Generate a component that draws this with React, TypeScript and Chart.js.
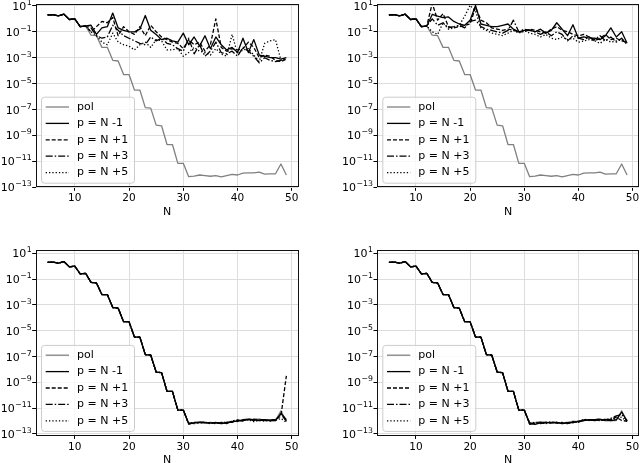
import { useEffect, useRef } from 'react';
import { Chart, registerables } from 'chart.js';

Chart.register(...registerables);

// ---------- data ----------
const N_VALUES = [5, 6, 7, 8, 9, 10, 11, 12, 13, 14, 15, 16, 17, 18, 19, 20, 21, 22, 23, 24, 25, 26, 27, 28, 29, 30, 31, 32, 33, 34, 35, 36, 37, 38, 39, 40, 41, 42, 43, 44, 45, 46, 47, 48, 49];

// pol, N = 5..30
const polHead = [2.0, 2.1, 1.7, 2.3, 0.89, 1.0, 0.25, 0.28, 5.6e-2, 5.0e-2, 6.3e-3, 6.3e-3, 6.3e-4, 5.6e-4, 5.0e-5, 5.0e-5, 3.2e-6, 3.2e-6, 1.4e-7, 1.3e-7, 6.3e-9, 5.6e-9, 2.0e-10, 2.0e-10, 7.1e-12, 7.1e-12];
// pol, N = 31..49
const polTail = [6.6e-13, 7.4e-13, 8.9e-13, 7.9e-13, 7.1e-13, 7.9e-13, 6.3e-13, 7.9e-13, 1.0e-12, 8.9e-13, 1.26e-12, 1.3e-12, 1.3e-12, 1.5e-12, 1.05e-12, 1.1e-12, 1.1e-12, 6.3e-12, 8.9e-13];
const pol = [...polHead, ...polTail];
// N = 5..12 shared by every curve in the top panels
const commonStart = polHead.slice(0, 8);

// top-left panel, N = 13..49
const tlNm1 = [0.32, 6.3e-2, 0.2, 0.25, 2.8, 0.2, 0.13, 0.1, 0.1, 0.16,
  1.8, 0.13, 6.3e-2, 2.5e-2, 3.2e-2, 2.0e-2, 1.6e-2, 7.9e-2, 1.0e-2, 4.0e-2,
  7.9e-3, 5.0e-2, 5.0e-3, 4.0e-2, 1.0e-2, 4.0e-3, 6.3e-3, 2.5e-3, 3.2e-2, 2.5e-3,
  2.5e-2, 1.6e-3, 1.3e-3, 1.0e-3, 1.0e-3, 7.9e-4, 1.0e-3];
const tlNp1 = [0.1, 0.25, 0.63, 0.5, 1.26, 5.0e-2, 0.25, 0.1, 6.3e-2, 0.25,
  5.0e-2, 0.32, 0.1, 4.0e-2, 2.5e-2, 1.6e-2, 1.3e-2, 5.0e-3, 2.5e-2, 1.0e-2,
  1.6e-2, 3.2e-3, 1.0e-2, 1.0, 6.3e-3, 3.2e-3, 5.0e-3, 4.0e-3, 5.0e-3, 1.6e-2,
  6.3e-3, 1.0e-3, 1.6e-3, 1.3e-3, 6.3e-4, 5.0e-4, 7.9e-4];
const tlNp3 = [0.2, 5.0e-2, 3.2e-2, 4.0e-2, 0.32, 0.13, 5.0e-2, 3.2e-2, 2.0e-2, 1.3e-2,
  1.0e-2, 4.0e-2, 2.0e-2, 3.2e-2, 1.3e-2, 1.0e-2, 5.0e-3, 3.2e-3, 3.2e-2, 2.0e-3,
  1.0e-2, 1.3e-3, 3.2e-3, 1.6e-2, 2.5e-3, 2.0e-3, 3.2e-3, 1.3e-3, 6.3e-3, 3.2e-3,
  1.3e-3, 4.0e-4, 1.0e-3, 6.3e-4, 5.0e-4, 6.3e-4, 1.0e-3];
const tlNp5 = [0.1, 5.0e-2, 1.6e-2, 1.0e-2, 7.9e-2, 1.6e-2, 1.0e-2, 7.9e-3, 4.0e-3, 1.0e-2,
  1.6e-2, 6.3e-3, 2.5e-2, 2.0e-2, 4.0e-3, 4.0e-3, 5.0e-3, 1.3e-3, 2.5e-3, 6.3e-3,
  3.2e-3, 2.5e-3, 1.6e-3, 5.0e-3, 2.0e-3, 1.3e-3, 6.3e-2, 2.0e-3, 4.0e-3, 5.0e-3,
  1.6e-3, 5.0e-4, 1.3e-2, 2.0e-2, 2.5e-2, 6.3e-4, 7.9e-4];

// top-right panel, N = 13..49
const trNm1 = [2.2, 1.6, 1.26, 1.4, 0.63, 0.4, 0.32, 0.79, 11, 0.4,
  0.32, 0.25, 0.25, 0.32, 0.4, 0.16, 0.1, 0.13, 0.14, 0.1,
  0.16, 7.9e-2, 0.13, 0.5, 0.16, 5.0e-2, 0.35, 3.2e-2, 4.0e-2, 3.2e-2,
  3.2e-2, 2.5e-2, 5.0e-2, 0.2, 4.0e-2, 0.1, 1.3e-2];
const trNp1 = [16, 0.79, 2.5, 0.25, 0.2, 0.25, 0.32, 0.4, 7.9, 0.79,
  0.5, 0.2, 0.16, 0.13, 0.16, 0.13, 0.1, 0.1, 0.16, 0.13,
  0.1, 7.9e-2, 0.16, 0.25, 0.13, 0.1, 6.3e-2, 5.0e-2, 6.3e-2, 4.0e-2,
  2.0e-2, 3.2e-2, 6.3e-2, 2.5e-2, 3.2e-2, 2.0e-2, 1.6e-2];
const trNp3 = [1.0, 0.32, 0.5, 0.2, 0.25, 0.32, 0.2, 0.63, 0.79, 0.25,
  0.16, 0.13, 0.1, 7.9e-2, 0.13, 0.79, 0.1, 0.16, 0.13, 0.1,
  6.3e-2, 0.1, 5.0e-2, 0.1, 6.3e-2, 2.0e-2, 5.0e-2, 3.2e-2, 2.5e-2, 4.0e-2,
  2.5e-2, 5.0e-2, 2.0e-2, 4.0e-2, 1.6e-2, 3.2e-2, 1.0e-2];
const trNp5 = [0.1, 6.3e-2, 0.5, 0.16, 0.2, 0.32, 1.6, 11, 4.0, 0.2,
  0.13, 7.9e-2, 6.3e-2, 5.0e-2, 7.9e-2, 0.13, 7.9e-2, 0.13, 7.9e-2, 6.3e-2,
  4.0e-2, 6.3e-2, 3.2e-2, 2.5e-2, 4.0e-2, 2.5e-2, 3.2e-2, 1.6e-2, 2.0e-2, 2.5e-2,
  2.0e-2, 1.3e-2, 2.5e-2, 1.6e-2, 2.0e-2, 2.5e-2, 1.3e-2];

// bottom-left panel, N = 31..49 (N = 5..30 coincide with pol)
const blNm1 = [6.3e-13, 7.1e-13, 7.9e-13, 7.6e-13, 7.1e-13, 7.6e-13, 6.3e-13, 7.1e-13, 8.9e-13, 1.0e-12, 1.26e-12, 1.4e-12, 1.26e-12, 1.1e-12, 1.26e-12, 1.1e-12, 1.1e-12, 4.0e-12, 1.26e-12];
const blNp1 = [5.6e-13, 7.9e-13, 7.6e-13, 8.3e-13, 6.3e-13, 7.9e-13, 7.1e-13, 7.9e-13, 7.9e-13, 1.1e-12, 1.1e-12, 1.26e-12, 1.4e-12, 1.26e-12, 1.1e-12, 1.26e-12, 1.26e-12, 2.5e-12, 3.2e-9];
const blNp3 = [7.1e-13, 6.3e-13, 7.9e-13, 7.1e-13, 7.9e-13, 7.1e-13, 7.9e-13, 6.3e-13, 1.0e-12, 1.26e-12, 1.0e-12, 1.4e-12, 1.1e-12, 1.26e-12, 1.26e-12, 1.0e-12, 1.26e-12, 3.2e-12, 1.0e-12];
const blNp5 = [6.3e-13, 7.9e-13, 7.1e-13, 7.9e-13, 7.1e-13, 6.3e-13, 7.9e-13, 7.9e-13, 8.9e-13, 1.0e-12, 1.1e-12, 1.26e-12, 8.9e-13, 1.1e-12, 1.0e-12, 1.26e-12, 1.1e-12, 1.6e-12, 7.9e-13];

// bottom-right panel, N = 31..49
const brNm1 = [6.3e-13, 5.6e-13, 7.1e-13, 7.9e-13, 7.1e-13, 7.9e-13, 6.3e-13, 7.1e-13, 7.9e-13, 8.9e-13, 1.1e-12, 1.26e-12, 1.1e-12, 1.26e-12, 1.26e-12, 1.1e-12, 1.26e-12, 5.0e-12, 1.0e-12];
const brNp1 = [7.1e-13, 6.3e-13, 7.9e-13, 7.1e-13, 7.9e-13, 7.1e-13, 7.1e-13, 6.3e-13, 8.9e-13, 7.9e-13, 1.26e-12, 1.1e-12, 1.26e-12, 1.4e-12, 1.1e-12, 1.4e-12, 2.0e-12, 1.1e-12, 1.0e-12];
const brNp3 = [5.6e-13, 7.1e-13, 6.3e-13, 7.9e-13, 8.9e-13, 7.1e-13, 7.9e-13, 7.1e-13, 7.9e-13, 1.0e-12, 1.1e-12, 1.26e-12, 1.26e-12, 1.1e-12, 1.26e-12, 1.6e-12, 2.5e-12, 3.2e-12, 1.1e-12];
const brNp5 = [7.1e-13, 7.9e-13, 7.1e-13, 6.3e-13, 7.1e-13, 7.9e-13, 7.1e-13, 7.9e-13, 7.1e-13, 8.9e-13, 1.4e-12, 1.1e-12, 1.26e-12, 1.1e-12, 1.4e-12, 1.26e-12, 1.6e-12, 2.0e-12, 8.9e-13];

const SERIES_LABELS = ['pol', 'p = N -1', 'p = N +1', 'p = N +3', 'p = N +5'];
const X_TICKS = [10, 20, 30, 40, 50];
const Y_TICKS = [1e-13, 1e-11, 1e-9, 1e-7, 1e-5, 1e-3, 1e-1, 1e1];
const Y_TICK_BASE = '10';
const Y_TICK_EXPONENTS = ['−13', '−11', '−9', '−7', '−5', '−3', '−1', '1'];
const X_TITLE = 'N';

const PANELS = [
  { series: [pol, [...commonStart, ...tlNm1], [...commonStart, ...tlNp1], [...commonStart, ...tlNp3], [...commonStart, ...tlNp5]] },
  { series: [pol, [...commonStart, ...trNm1], [...commonStart, ...trNp1], [...commonStart, ...trNp3], [...commonStart, ...trNp5]] },
  { series: [pol, [...polHead, ...blNm1], [...polHead, ...blNp1], [...polHead, ...blNp3], [...polHead, ...blNp5]] },
  { series: [pol, [...polHead, ...brNm1], [...polHead, ...brNp1], [...polHead, ...brNp3], [...polHead, ...brNp5]] },
];

// ---------- styles / layout ----------
const FONT = 'DejaVu Sans';
const COLORS = ['#808080', '#000000', '#000000', '#000000', '#000000'];
const DASHES = [[], [], [4, 2], [7, 2, 1.5, 2], [1.3, 2]];

const GEOM = [
  { left: 0, top: 0, w: 320, h: 231, aL: 35.7, aT: 4, aR: 298.3, aB: 187.3, titleY: 212, ymin: 1e-13, ymax: 14 },
  { left: 320, top: 0, w: 320, h: 231, aL: 57, aT: 4, aR: 319, aB: 187.3, titleY: 212, ymin: 1e-13, ymax: 14 },
  { left: 0, top: 231, w: 320, h: 240, aL: 35.7, aT: 19, aR: 298.3, aB: 204.5, titleY: 229, ymin: 7.6e-14, ymax: 18 },
  { left: 320, top: 231, w: 320, h: 240, aL: 57, aT: 19, aR: 319, aB: 204.5, titleY: 229, ymin: 7.6e-14, ymax: 18 },
];

const decorPlugin = {
  id: 'decor',
  afterDatasetsDraw(chart: any) {
    const { ctx, chartArea } = chart;
    const { left, top, right, bottom } = chartArea;
    ctx.save();
    ctx.strokeStyle = '#111';
    ctx.lineWidth = 1;
    ctx.strokeRect(Math.round(left) + 0.5, Math.round(top) + 0.5, Math.round(right - left) - 1, Math.round(bottom - top) - 1);
    ctx.restore();
  },
  afterDraw(chart: any) {
    const { ctx, chartArea } = chart;
    // y tick labels: 10 with a raised exponent
    const yScale = chart.scales.y;
    ctx.save();
    ctx.fillStyle = '#000';
    ctx.textBaseline = 'alphabetic';
    ctx.textAlign = 'left';
    const xRight = chartArea.left - 4;
    Y_TICKS.forEach((v, i) => {
      const py = yScale.getPixelForValue(v);
      const exp = Y_TICK_EXPONENTS[i];
      ctx.font = `7.8px "${FONT}"`;
      const we = ctx.measureText(exp).width;
      ctx.font = `11px "${FONT}"`;
      const wb = ctx.measureText(Y_TICK_BASE).width;
      const base = py + 4;
      ctx.fillText(Y_TICK_BASE, xRight - we - wb - 0.5, base);
      ctx.font = `7.8px "${FONT}"`;
      ctx.fillText(exp, xRight - we, base - 5);
    });
    ctx.restore();

    // legend
    const bw = 93;
    const bh = 86;
    const bx = chartArea.left + 5.3;
    const by = chartArea.bottom - 4.6 - bh;
    ctx.save();
    ctx.beginPath();
    ctx.roundRect(bx + 0.5, by + 0.5, bw, bh, 3);
    ctx.fillStyle = 'rgba(255,255,255,0.8)';
    ctx.fill();
    ctx.strokeStyle = '#cccccc';
    ctx.lineWidth = 1;
    ctx.stroke();
    ctx.font = `11px "${FONT}"`;
    ctx.textBaseline = 'middle';
    ctx.textAlign = 'left';
    SERIES_LABELS.forEach((lab, i) => {
      const y = by + 10.3 + i * 16.4;
      ctx.beginPath();
      ctx.setLineDash(DASHES[i]);
      ctx.strokeStyle = COLORS[i];
      ctx.lineWidth = 1.3;
      ctx.moveTo(bx + 4.7, y);
      ctx.lineTo(bx + 28, y);
      ctx.stroke();
      ctx.setLineDash([]);
      ctx.fillStyle = '#000';
      ctx.fillText(lab, bx + 36, y);
    });
    ctx.restore();
  },
};

function Panel({ index }: { index: number }) {
  const ref = useRef<HTMLCanvasElement | null>(null);
  const g = GEOM[index];
  useEffect(() => {
    const canvas = ref.current;
    if (!canvas) return;
    const series = PANELS[index].series;
    const datasets = series.map((vals, i) => ({
      label: SERIES_LABELS[i],
      data: N_VALUES.map((n, j) => ({ x: n, y: vals[j] })),
      borderColor: COLORS[i],
      backgroundColor: COLORS[i],
      borderDash: DASHES[i],
      borderWidth: 1.3,
      borderJoinStyle: 'round' as const,
      pointRadius: 0,
      fill: false,
      tension: 0,
      order: 4 - i,
    }));
    const titlePad = g.h - g.titleY - 6.6;
    const chart = new Chart(canvas, {
      type: 'line',
      data: { datasets },
      plugins: [decorPlugin],
      options: {
        responsive: false,
        animation: false,
        devicePixelRatio: 1,
        layout: { padding: { left: 0, top: g.aT, right: g.w - g.aR, bottom: 0 } },
        plugins: { legend: { display: false }, tooltip: { enabled: false } },
        scales: {
          x: {
            type: 'linear',
            min: 2.8,
            max: 51.2,
            afterBuildTicks: (s: any) => { s.ticks = X_TICKS.map((v) => ({ value: v })); },
            afterFit: (s: any) => { s.height = g.h - g.aB; s.paddingLeft = 0; s.paddingRight = 0; },
            ticks: { font: { family: FONT, size: 10.5 }, color: '#000', padding: 1.5, maxRotation: 0, autoSkip: false, callback: (v: any) => String(v) },
            grid: { color: '#dddddd', lineWidth: 1, tickColor: '#000', tickLength: 3.5, drawTicks: true },
            border: { display: false },
            title: { display: true, text: X_TITLE, font: { family: FONT, size: 11 }, color: '#000', padding: { top: 0, bottom: titlePad } },
          },
          y: {
            type: 'logarithmic',
            min: g.ymin,
            max: g.ymax,
            afterBuildTicks: (s: any) => { s.ticks = Y_TICKS.map((v) => ({ value: v })); },
            afterFit: (s: any) => { s.width = g.aL; s.paddingTop = 0; s.paddingBottom = 0; },
            ticks: { display: false, autoSkip: false },
            grid: { color: '#dddddd', lineWidth: 1, tickColor: '#000', tickLength: 3.5, drawTicks: true },
            border: { display: false },
          },
        },
      } as any,
    });
    return () => chart.destroy();
  }, [index]);
  return (
    <canvas
      ref={ref}
      width={g.w}
      height={g.h}
      style={{ position: 'absolute', left: g.left, top: g.top, width: g.w, height: g.h }}
    />
  );
}

export default function App() {
  return (
    <div style={{ position: 'fixed', left: 0, top: 0, width: 640, height: 463, overflow: 'hidden', background: '#fff' }}>
      {[0, 1, 2, 3].map((i) => (
        <Panel key={i} index={i} />
      ))}
    </div>
  );
}
